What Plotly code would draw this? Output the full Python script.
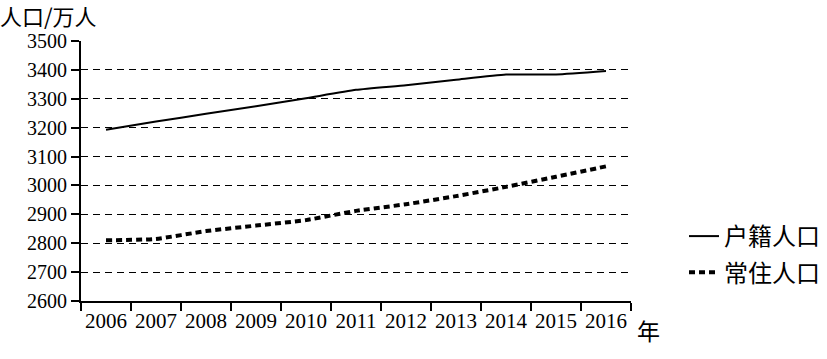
import plotly.graph_objects as go

years = ["2006", "2007", "2008", "2009", "2010", "2011", "2012", "2013", "2014", "2015", "2016"]
huji = [3193, 3221, 3248, 3274, 3302, 3331, 3347, 3366, 3384, 3384, 3396]
changzhu = [2810, 2815, 2842, 2861, 2880, 2912, 2935, 2963, 2995, 3030, 3066]
y_ticks = [2600, 2700, 2800, 2900, 3000, 3100, 3200, 3300, 3400, 3500]

serif = "Liberation Serif, Times New Roman, serif"
cjk = "Noto Sans CJK SC, sans-serif"

fig = go.Figure()
fig.add_trace(go.Scatter(
    x=years, y=huji, mode="lines", name="户籍人口", legendgroup="a",
    line=dict(color="black", width=2, shape="spline", smoothing=0.5),
))
fig.add_trace(go.Scatter(
    x=years, y=changzhu, mode="lines", name="常住人口", legendgroup="b",
    line=dict(color="black", width=4, dash="6px,4px", shape="spline", smoothing=0.5),
))

fig.update_layout(
    width=827, height=359,
    margin=dict(l=81, r=196, t=41, b=58, autoexpand=False),
    plot_bgcolor="white", paper_bgcolor="white",
    showlegend=True,
    legend=dict(
        xref="container", x=684 / 827, xanchor="left",
        yref="container", y=1 - 214 / 359, yanchor="top",
        font=dict(family=cjk, size=24, color="black"),
        tracegroupgap=2, bgcolor="rgba(0,0,0,0)", borderwidth=0,
    ),
    title=dict(
        text="人口/万人", xref="container", x=0.0, xanchor="left",
        yref="container", y=1 - 17 / 359, yanchor="middle",
        font=dict(family=cjk, size=22, color="black"),
    ),
    annotations=[dict(
        text="年", xref="paper", yref="paper", x=1.0073, y=-0.111,
        xanchor="left", yanchor="middle", showarrow=False,
        font=dict(family=cjk, size=23, color="black"),
    )],
)

fig.update_xaxes(
    type="category", range=[-0.5, 10.5], tickson="boundaries",
    showline=True, linecolor="black", linewidth=2,
    ticks="outside", ticklen=8, tickwidth=2, tickcolor="black",
    showgrid=False, zeroline=False, tickangle=0,
    tickfont=dict(family=serif, size=21, color="black"),
)
fig.update_yaxes(
    range=[2600, 3500], tickvals=y_ticks,
    showline=True, linecolor="black", linewidth=2,
    ticks="outside", ticklen=8, tickwidth=2, tickcolor="black",
    showgrid=True, gridcolor="black", gridwidth=1, griddash="7px,5px",
    zeroline=False,
    tickfont=dict(family=serif, size=20, color="black"),
)

fig.write_html(
    "out.html",
    config={"displayModeBar": False},
    post_script="document.body.style.margin='0';document.body.style.overflow='hidden';",
)
